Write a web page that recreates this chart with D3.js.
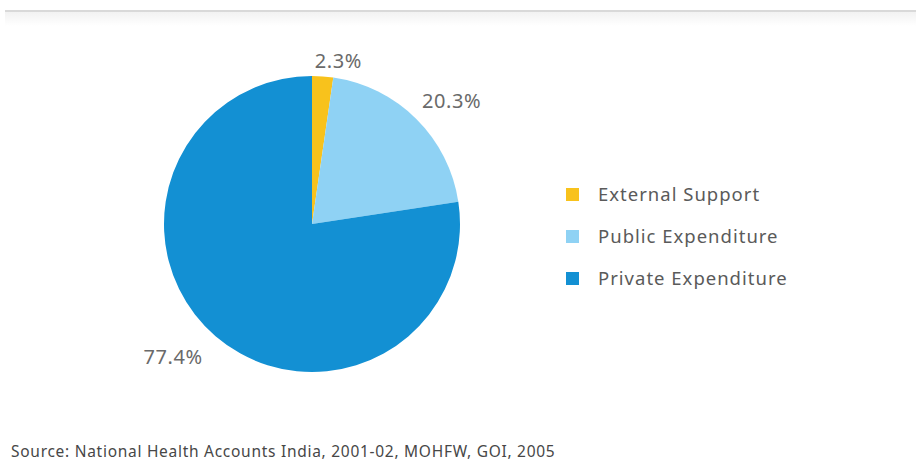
<!DOCTYPE html>
<html>
<head>
<meta charset="utf-8">
<script src="https://cdn.jsdelivr.net/npm/d3@7"></script>
<style>
  body { margin: 0; background: #fff; }
  svg { display: block; font-family: "Noto Sans", "Open Sans", sans-serif; }
</style>
</head>
<body>
<svg width="916" height="466"></svg>
<script>
// data
var categories = ["External Support", "Public Expenditure", "Private Expenditure"];
var shares = [2.3, 20.3, 77.4];
var colours = ["#f8c21c", "#8fd2f4", "#1390d3"];
var source = "Source: National Health Accounts India, 2001-02, MOHFW, GOI, 2005";

var svg = d3.select("svg"),
    width = +svg.attr("width"),
    height = +svg.attr("height");

// thin grey rule on top
var grad = svg.append("defs").append("linearGradient")
    .attr("id", "fade").attr("x1", 0).attr("x2", 0).attr("y1", 0).attr("y2", 1);
grad.append("stop").attr("offset", "0%").attr("stop-color", "#f2f2f2");
grad.append("stop").attr("offset", "100%").attr("stop-color", "#ffffff");
svg.append("rect").attr("x", 5).attr("y", 12).attr("width", width - 5).attr("height", 14)
   .attr("fill", "url(#fade)");
svg.append("rect").attr("x", 5).attr("y", 10).attr("width", width - 5).attr("height", 2)
   .attr("fill", "#d9d9d9");

var cx = 312, cy = 224, radius = 148;

var colour = d3.scaleOrdinal().domain(categories).range(colours);

var pie = d3.pie().sort(null).value(function(d) { return d.value; });
var arc = d3.arc().innerRadius(0).outerRadius(radius);
var labelArc = d3.arc().innerRadius(radius + 36).outerRadius(radius + 36);

var data = categories.map(function(c, i) { return { name: c, value: shares[i] }; });
var arcs = pie(data);

var g = svg.append("g").attr("transform", "translate(" + cx + "," + cy + ")");

g.selectAll(".slice")
  .data(arcs)
  .enter().append("path")
  .attr("class", "slice")
  .attr("d", arc)
  .attr("fill", function(d) { return colour(d.data.name); });

// small nudges so labels sit where the original had them
var nudge = [[13, 21], [10, 8], [-19, -7]];

g.selectAll(".lbl")
  .data(arcs)
  .enter().append("text")
  .attr("class", "lbl")
  .attr("transform", function(d, i) {
      var c = labelArc.centroid(d);
      return "translate(" + (c[0] + nudge[i][0]) + "," + (c[1] + nudge[i][1]) + ")";
  })
  .attr("text-anchor", "middle")
  .attr("dy", "0.35em")
  .attr("fill", "#6a6a6a")
  .style("font-size", "20px")
  .style("letter-spacing", "0.6px")
  .text(function(d) { return d.data.value.toFixed(1) + "%"; });

// legend
var legend = svg.append("g").attr("transform", "translate(566,188)");
var rows = legend.selectAll(".row")
  .data(categories)
  .enter().append("g")
  .attr("class", "row")
  .attr("transform", function(d, i) { return "translate(0," + (i * 42) + ")"; });

rows.append("rect")
  .attr("width", 13).attr("height", 13)
  .attr("fill", function(d) { return colour(d); });

rows.append("text")
  .attr("x", 32).attr("y", 7).attr("dy", "0.35em")
  .attr("fill", "#5a5a5a")
  .style("font-size", "18.5px")
  .style("letter-spacing", "1px")
  .text(function(d) { return d; });

svg.append("text")
  .attr("x", 11).attr("y", 457)
  .attr("fill", "#474747")
  .style("font-size", "15.5px")
  .style("letter-spacing", "0.72px")
  .text(source);
</script>
</body>
</html>
